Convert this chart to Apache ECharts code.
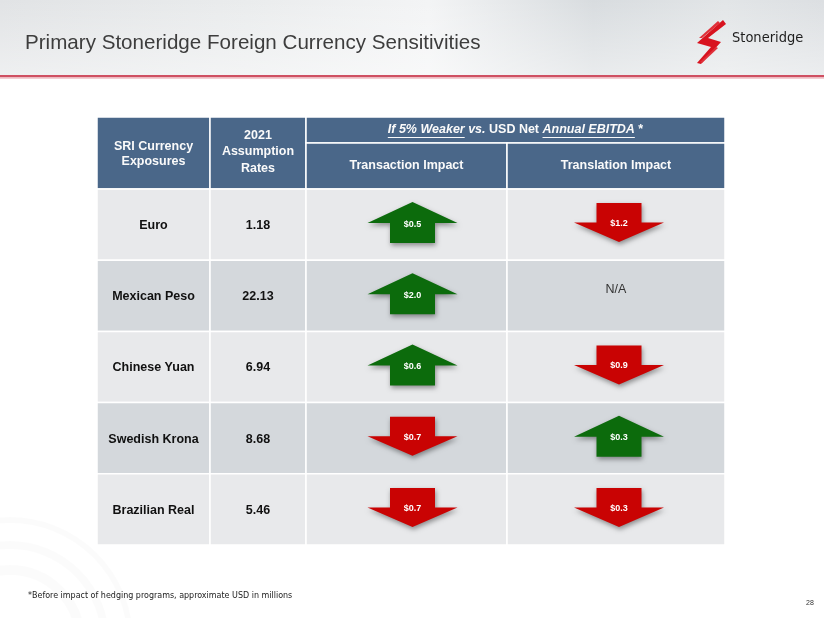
<!DOCTYPE html>
<html><head><meta charset="utf-8">
<script src="https://cdn.jsdelivr.net/npm/echarts@6/dist/echarts.min.js"></script>
<style>html,body{margin:0;padding:0;background:#fff}#c{width:824px;height:618px}</style>
</head><body><div id="c"></div>
<script>
// ---------- data ----------
const currencies = ['Euro', 'Mexican Peso', 'Chinese Yuan', 'Swedish Krona', 'Brazilian Real'];
const assumptionRates = [1.18, 22.13, 6.94, 8.68, 5.46];
const transactionImpact = [0.5, 2.0, 0.6, -0.7, -0.7];   // USD millions
const translationImpact = [-1.2, null, -0.9, 0.3, -0.3]; // null = N/A
const columnHeaders = ['SRI Currency\nExposures', '2021\nAssumption\nRates', 'Transaction Impact', 'Translation Impact'];
const groupHeader = [
  { t: 'If 5% Weaker', italic: true, u: true },
  { t: ' vs.', italic: true },
  { t: ' USD Net ', italic: false },
  { t: 'Annual EBITDA', italic: true, u: true },
  { t: ' *', italic: false }
];
const titleText = 'Primary Stoneridge Foreign Currency Sensitivities';
const footnoteText = '*Before impact of hedging programs, approximate USD in millions';
const pageNumber = '28';

// ---------- layout / style ----------
const FONT = 'Arial, "Liberation Sans", Helvetica, sans-serif';
const NARROW = '"Liberation Sans Narrow", "DejaVu Sans Condensed", Arial, sans-serif';
const HEAD = '#4a6789';
const ROW_A = '#e8e9eb', ROW_B = '#d4d8dc';
const GREEN = '#0c6b0c', RED = '#c90303';
const T = { left: 97, top: 117, mid: 143, body: 189, bottom: 545, right: 725 };
const colW = [113, 96, 201, 218];
const edges = colW.reduce((a, w) => (a.push(a[a.length - 1] + w), a), [0]);
const arrowDx = [0, 0, 6, 3];
const X = i => T.left + edges[i];

const measure = (() => {
  const ctx = document.createElement('canvas').getContext('2d');
  return (txt, font) => { ctx.font = font; return ctx.measureText(txt).width; };
})();

function arrow(cx, cy, up, color, label) {
  const hw = 45, sw = 22.5;
  let pts, ty;
  if (up) {
    const top = cy - 20.5, mid = top + 21, bot = mid + 20;
    pts = [[cx, top], [cx + hw, mid], [cx + sw, mid], [cx + sw, bot], [cx - sw, bot], [cx - sw, mid], [cx - hw, mid]];
    ty = mid + 1;
  } else {
    const top = cy - 19.5, mid = top + 19.5, bot = mid + 19.5;
    pts = [[cx - sw, top], [cx + sw, top], [cx + sw, mid], [cx + hw, mid], [cx, bot], [cx - hw, mid], [cx - sw, mid]];
    ty = mid + 1;
  }
  return {
    type: 'group',
    children: [
      { type: 'polygon', shape: { points: pts },
        style: { fill: color, shadowBlur: 5, shadowOffsetX: 1, shadowOffsetY: 2.5, shadowColor: 'rgba(0,0,0,0.4)' } },
      { type: 'text', x: cx, y: ty,
        style: { text: label, fill: '#fff', font: 'bold 9px ' + FONT, align: 'center', verticalAlign: 'middle' } }
    ]
  };
}

function fmt(v) { return '$' + Math.abs(v).toFixed(1); }

function renderItem(params, api) {
  const c = api.value(0), r = api.value(1);
  const p0 = api.coord([edges[c], r]);
  const p1 = api.coord([edges[c + 1], r]);
  const h = api.size([0, 1])[1];
  const cy = p0[1];
  const children = [{
    type: 'rect',
    shape: { x: p0[0], y: cy - h / 2, width: p1[0] - p0[0], height: h },
    style: { fill: r % 2 ? ROW_B : ROW_A, stroke: '#fff', lineWidth: 1.5 }
  }];
  const cx = (p0[0] + p1[0]) / 2;
  if (c === 0 || c === 1) {
    const txt = c === 0 ? currencies[r] : assumptionRates[r].toFixed(2);
    children.push({ type: 'text', x: cx, y: cy + 1,
      style: { text: txt, fill: '#111', font: 'bold 12.5px ' + FONT, align: 'center', verticalAlign: 'middle' } });
  } else {
    const v = c === 2 ? transactionImpact[r] : translationImpact[r];
    if (v == null) {
      children.push({ type: 'text', x: cx, y: cy - 6,
        style: { text: 'N/A', fill: '#333', font: '12.5px ' + FONT, align: 'center', verticalAlign: 'middle' } });
    } else {
      children.push(arrow(cx + arrowDx[c], cy - 2, v > 0, v > 0 ? GREEN : RED, fmt(v)));
    }
  }
  return { type: 'group', children };
}

const cells = [];
currencies.forEach((_, r) => { for (let c = 0; c < 4; c++) cells.push([c, r]); });

// ---------- header graphics ----------
const g = [];
// slide top band
g.push({ type: 'rect', shape: { x: 0, y: 0, width: 824, height: 76 }, silent: true,
  style: { fill: new echarts.graphic.LinearGradient(0, 0, 1, 0, [
    { offset: 0, color: '#e1e3e5' }, { offset: 0.3, color: '#eaeced' }, { offset: 0.52, color: '#f3f4f5' },
    { offset: 0.72, color: '#d8dcdf' }, { offset: 0.88, color: '#e2e5e7' }, { offset: 1, color: '#dcdfe2' }]) } });
g.push({ type: 'rect', shape: { x: 0, y: 0, width: 824, height: 76 }, silent: true,
  style: { fill: new echarts.graphic.LinearGradient(0, 0, 0, 1, [
    { offset: 0, color: 'rgba(255,255,255,0)' }, { offset: 1, color: 'rgba(255,255,255,0.45)' }]) } });
g.push({ type: 'rect', shape: { x: 0, y: 75, width: 824, height: 2.5 }, style: { fill: '#cf5062' } });
g.push({ type: 'rect', shape: { x: 0, y: 77.5, width: 824, height: 1.5 }, style: { fill: '#f3cdd2' } });
// faint decoration bottom-left
[70, 95, 120].forEach((rad, i) => g.push({ type: 'circle', shape: { cx: 10, cy: 640, r: rad }, silent: true,
  style: { fill: 'none', stroke: 'rgba(0,0,0,0.015)', lineWidth: 10 - i * 2 } }));

// title
g.push({ type: 'text', x: 25, y: 43, style: { text: titleText, fill: '#3d3d3d', font: '20.6px ' + FONT, verticalAlign: 'middle' } });
// logo
g.push({ type: 'polygon', shape: { points: [[723, 20], [726, 24], [708, 38], [721, 42], [701, 64], [697, 63], [711, 47], [697, 43]] },
  style: { fill: '#d8131f' } });
g.push({ type: 'polygon', shape: { points: [[718, 21], [720, 23], [702, 38], [699, 38]] }, style: { fill: '#e0303a' } });
g.push({ type: 'polygon', shape: { points: [[716, 47], [718, 48], [702, 63], [700, 62]] }, style: { fill: '#e0303a' } });
g.push({ type: 'text', x: 732, y: 38, style: { text: 'Stoneridge', fill: '#1e1e1e', font: '14.5px ' + NARROW, verticalAlign: 'middle' } });

// table header cells
const hdrRect = (x, y, w, h) => ({ type: 'rect', shape: { x, y, width: w, height: h }, style: { fill: HEAD, stroke: '#fff', lineWidth: 1.5 } });
g.push(hdrRect(X(0), T.top, colW[0], T.body - T.top));
g.push(hdrRect(X(1), T.top, colW[1], T.body - T.top));
g.push(hdrRect(X(2), T.top, colW[2] + colW[3], T.mid - T.top));
g.push(hdrRect(X(2), T.mid, colW[2], T.body - T.mid));
g.push(hdrRect(X(3), T.mid, colW[3], T.body - T.mid));
const hdrText = (x, y, t, lh) => ({ type: 'text', x, y,
  style: { text: t, fill: '#fafafa', font: 'bold 12.5px ' + FONT, align: 'center', verticalAlign: 'middle', lineHeight: lh || 15 } });
g.push(hdrText(X(0) + colW[0] / 2, 154, columnHeaders[0], 15));
g.push(hdrText(X(1) + colW[1] / 2, 152, columnHeaders[1], 16.5));
g.push(hdrText(X(2) + colW[2] / 2, 166, columnHeaders[2]));
g.push(hdrText(X(3) + colW[3] / 2, 166, columnHeaders[3]));
// group header with underlines
(function () {
  const fonts = groupHeader.map(s => (s.italic ? 'italic ' : '') + 'bold 12.5px ' + FONT);
  const widths = groupHeader.map((s, i) => measure(s.t, fonts[i]));
  const total = widths.reduce((a, b) => a + b, 0);
  let x = X(2) + (colW[2] + colW[3]) / 2 - total / 2;
  const y = (T.top + T.mid) / 2;
  groupHeader.forEach((s, i) => {
    g.push({ type: 'text', x, y, style: { text: s.t, fill: '#fafafa', font: fonts[i], verticalAlign: 'middle' } });
    if (s.u) g.push({ type: 'rect', shape: { x, y: y + 7, width: widths[i], height: 1 }, style: { fill: '#fafafa' } });
    x += widths[i];
  });
})();

// footer
g.push({ type: 'text', x: 28, y: 596, style: { text: footnoteText, fill: '#222', font: '8.9px ' + NARROW, verticalAlign: 'middle' } });
g.push({ type: 'text', x: 806, y: 603, style: { text: pageNumber, fill: '#333', font: '7px ' + FONT, verticalAlign: 'middle' } });

const chart = echarts.init(document.getElementById('c'), null, { renderer: 'canvas' });
chart.setOption({
  animation: false,
  backgroundColor: '#fff',
  grid: { left: T.left, top: T.body, width: T.right - T.left, height: T.bottom - T.body, containLabel: false },
  xAxis: { type: 'value', min: 0, max: edges[4], show: false },
  yAxis: { type: 'category', data: currencies, inverse: true, show: false },
  graphic: { elements: g },
  series: [{ type: 'custom', coordinateSystem: 'cartesian2d', clip: false, renderItem, data: cells, z: 5 }]
});
</script>
</body></html>
